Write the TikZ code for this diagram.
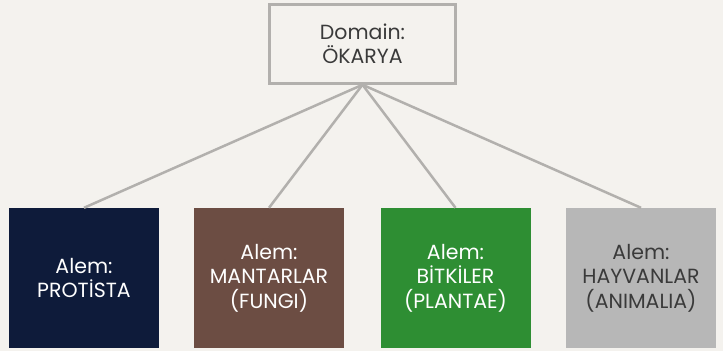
\documentclass[tikz,border=0pt]{standalone}
\usepackage{fontspec}
\setmainfont{Poppins}
\definecolor{bg}{HTML}{F4F2EE}
\definecolor{linegray}{HTML}{B2B0AD}
\definecolor{navy}{HTML}{0E1B3A}
\definecolor{brown}{HTML}{6C4D43}
\definecolor{leaf}{HTML}{2E8E33}
\definecolor{stone}{HTML}{B7B7B7}
\definecolor{ink}{HTML}{3A3A3A}

\begin{document}
\begin{tikzpicture}[x=1pt,y=-1pt,
    kingdom/.style={minimum width=150pt,minimum height=140pt,inner sep=0pt,
        align=center,font=\fontsize{20.5}{24.5}\selectfont}]
\fill[bg] (0,0) rectangle (723,351);

% Domain
\node[draw=linegray,line width=2.5pt,fill=bg,minimum width=186pt,minimum height=79pt,
    inner sep=0pt,align=center,text=ink,font=\fontsize{20.5}{23.5}\selectfont]
    (domain) at (362.5,44) {Domain:\\ÖKARYA};

% Kingdoms
\foreach \x/\name/\col/\txt/\lbl in {
    84/protista/navy/white/{Alem:\\PROTİSTA},
    269/fungi/brown/white/{Alem:\\MANTARLAR\\(FUNGI)},
    455.5/plantae/leaf/white/{Alem:\\BİTKİLER\\(PLANTAE)},
    641/animalia/stone/ink/{Alem:\\HAYVANLAR\\(ANIMALIA)}} {
    \node[kingdom,fill=\col,text=\txt] (\name) at (\x,278) {\lbl};
}

% Connectors
\foreach \name in {protista,fungi,plantae,animalia}
    \draw[linegray,line width=2.5pt] (domain.south) -- (\name.north);
\end{tikzpicture}
\end{document}
